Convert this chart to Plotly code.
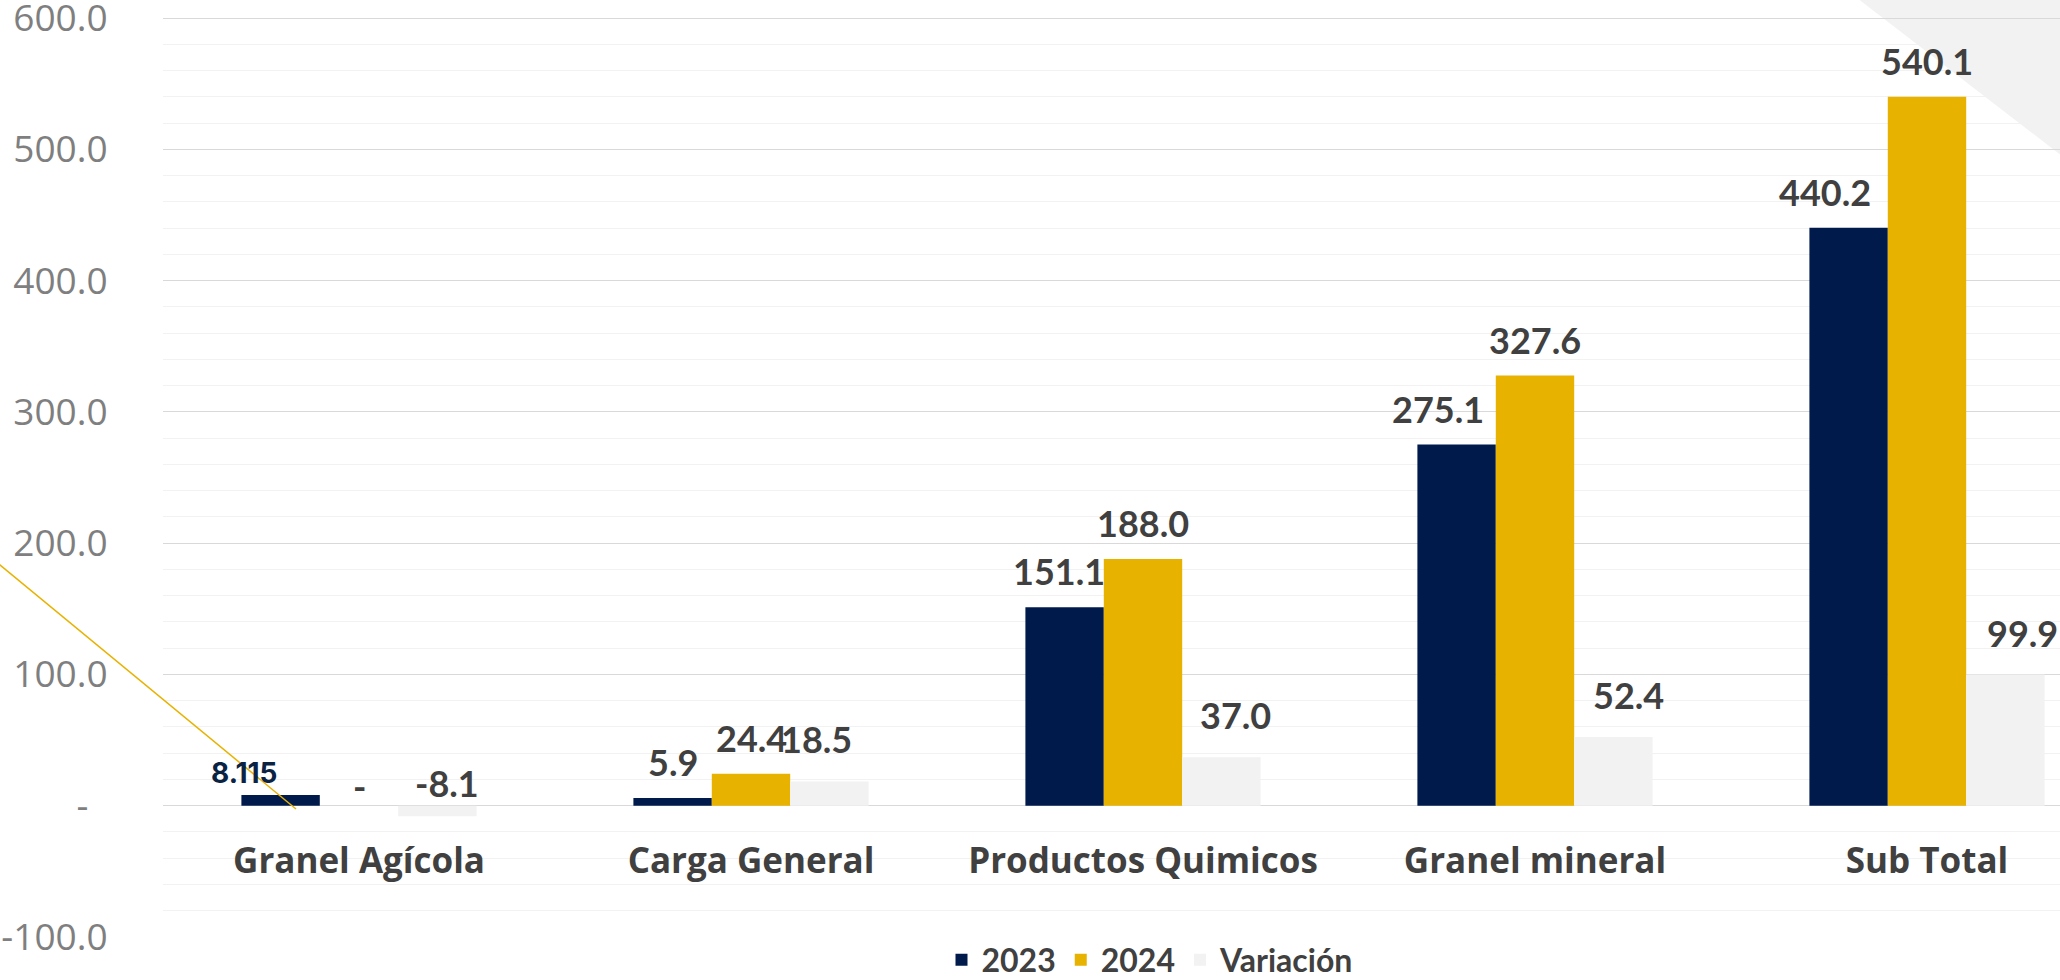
import plotly.graph_objects as go

# ---------------- data ----------------
categories = ["Granel Agícola", "Carga General", "Productos Quimicos", "Granel mineral", "Sub Total"]
series_names = ["2023", "2024", "Variación"]
values_2023 = [8.115, 5.9, 151.1, 275.1, 440.2]
values_2024 = [0.0, 24.4, 188.0, 327.6, 540.1]
values_var = [-8.1, 18.5, 37.0, 52.4, 99.9]
y_tickvals = [-100, 0, 100, 200, 300, 400, 500, 600]
y_ticktext = ["-100.0", "-\u00a0\u00a0", "100.0", "200.0", "300.0", "400.0", "500.0", "600.0"]

# ---------------- style ----------------
C_2023 = "#001A4B"
C_2024 = "#E8B200"
C_VAR = "#F2F2F2"
LABEL_COLOR = "#404040"
TICK_COLOR = "#7F7F7F"

REF_W, REF_H = 2060, 980
W_FIG, H_FIG = REF_W, REF_H
PLOT_L_REF, PLOT_T_REF, PLOT_B_REF = 163, 12, 937
L = PLOT_L_REF
T = PLOT_T_REF
PW = W_FIG - L
PH = PLOT_B_REF - PLOT_T_REF
B = H_FIG - T - PH
PX_PER_UNIT = 919 / 700.0
Y_MIN = -100
Y_MAX = Y_MIN + PH / PX_PER_UNIT


def px_x(p):
    return (p - PLOT_L_REF) / PW


def px_y(p):
    return (PLOT_B_REF - p) / PH


def fmt(v):
    return "-" if v == 0 else f"{v:.1f}"


fig = go.Figure()
for name, vals, col in [("2023", values_2023, C_2023), ("2024", values_2024, C_2024), ("Variación", values_var, C_VAR)]:
    fig.add_trace(go.Bar(
        name=f"<b>{name}</b>", x=list(range(len(categories))), y=vals,
        marker=dict(color=col, line=dict(width=0)),
        hoverinfo="skip",
    ))

# data labels (annotations placed relative to bars)
offsets = {"2023": -0.2, "2024": 0.0, "Variación": 0.2}
dx = {"2023": [-36, 0, -6, -19, -24], "2024": [0, 0, 0, 0, 0], "Variación": [10, -13, 14, 15, 17]}
dy = {"2023": [22, 36, 36, 36, 36], "2024": [20, 36, 36, 36, 36], "Variación": [23, 42, 42, 42, 42]}
ann = []
for name, vals in [("2023", values_2023), ("2024", values_2024), ("Variación", values_var)]:
    for i, v in enumerate(vals):
        special = (name == "2023" and i == 0)
        txt = f"{v:.3f}" if special else fmt(v)
        font = dict(family="Inter, Roboto, sans-serif", size=28, color="#0B2343") if special else \
            dict(family="Lato, sans-serif", size=36, color=LABEL_COLOR)
        ann.append(dict(
            x=i + offsets[name], y=max(v, 0), xref="x", yref="y",
            text=f"<b>{txt}</b>", showarrow=False,
            xanchor="center", yanchor="middle",
            xshift=dx[name][i], yshift=dy[name][i], font=font,
        ))

shapes = [
    # grey decorative triangle top-right
    dict(type="path", xref="paper", yref="paper", layer="below",
         path=f"M {px_x(1857)},{px_y(-2)} L {px_x(2075)},{px_y(-2)} L {px_x(2075)},{px_y(166)} Z",
         fillcolor="#F2F2F2", line=dict(width=0)),
    # thin gold decorative line on the left
    dict(type="line", xref="paper", yref="paper", layer="above",
         x0=px_x(-20), y0=px_y(548.5), x1=px_x(296), y1=px_y(809),
         line=dict(color="#E8B200", width=1.5)),
]

fig.update_layout(
    width=W_FIG, height=H_FIG,
    margin=dict(l=L, r=0, t=T, b=B, autoexpand=False),
    paper_bgcolor="white", plot_bgcolor="white",
    barmode="group", bargap=0.4, bargroupgap=0,
    showlegend=True,
    legend=dict(orientation="h", x=px_x(1150), xanchor="center", y=px_y(960), yanchor="middle",
                font=dict(family="Lato, sans-serif", size=32, color=LABEL_COLOR),
                traceorder="normal", bgcolor="rgba(0,0,0,0)", itemclick=False,
                tracegroupgap=0, itemwidth=30),
    annotations=ann,
    shapes=shapes,
    xaxis=dict(
        range=[-0.5, (REF_W - 359) / 392], tickmode="array",
        tickvals=list(range(len(categories))), ticktext=[f"<b>{c}</b>" for c in categories],
        tickfont=dict(family="Open Sans, sans-serif", size=35, color=LABEL_COLOR),
        showgrid=False, zeroline=False, showline=False,
        ticks="outside", ticklen=24, tickcolor="rgba(0,0,0,0)",
        anchor="free", position=(0 - Y_MIN) / (Y_MAX - Y_MIN), fixedrange=True,
        ticklabeloverflow="allow",
    ),
    yaxis=dict(
        range=[Y_MIN, Y_MAX], tickmode="array", tickvals=y_tickvals, ticktext=y_ticktext,
        tickfont=dict(family="Open Sans, sans-serif", size=37, color=TICK_COLOR),
        showgrid=True, gridcolor="#D9D9D9", gridwidth=1,
        minor=dict(dtick=20, tick0=0, showgrid=True, gridcolor="#F2F2F2", gridwidth=1),
        zeroline=False, showline=False,
        ticks="outside", ticklen=47, tickcolor="rgba(0,0,0,0)", fixedrange=True,
        ticklabeloverflow="allow",
    ),
)

fig.write_html("out.html", config={"displayModeBar": False},
               post_script="document.body.style.margin='0px';")
